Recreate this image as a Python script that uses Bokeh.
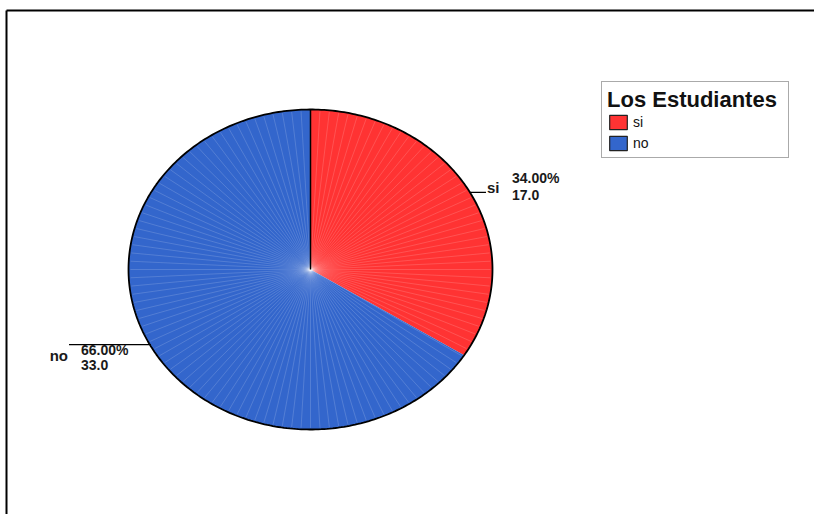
import numpy as np
from bokeh.plotting import figure
from bokeh.models import Range1d, Legend, LegendItem
from bokeh.core.properties import value
from bokeh.embed import file_html
from bokeh.resources import INLINE

# ---- data ----
categories = ["si", "no"]
counts = [17, 33]
colors = ["#FF3333", "#3366CC"]
legend_title = "Los Estudiantes"

# ---- layout (canvas pixels) ----
W, H = 814, 514
cx, cy, rx, ry = 310, 269, 182, 160
FONT = "Liberation Sans"

p = figure(width=W, height=H, output_backend="svg", toolbar_location=None,
           x_range=Range1d(0, W), y_range=Range1d(H, 0), min_border=0)
p.axis.visible = False
p.grid.visible = False
p.outline_line_color = None
p.background_fill_color = "white"
p.border_fill_color = "white"

def pt(theta_deg, scale=1.0):
    t = np.radians(theta_deg)
    return cx + rx * scale * np.cos(t), cy - ry * scale * np.sin(t)

total = float(sum(counts))
fracs = [c / total for c in counts]
starts, ends, mids = [], [], []
a = 90.0
for f in fracs:
    starts.append(a)
    ends.append(a - 360 * f)
    mids.append(a - 180 * f)
    a -= 360 * f

# slices
for cat, s, e, col in zip(categories, starts, ends, colors):
    th = np.linspace(s, e, 200)
    xs, ys = pt(th)
    p.patch(np.concatenate([[cx], xs]), np.concatenate([[cy], ys]),
            fill_color=col, line_color=None)

# light radial streaks (shading texture)
ang = np.arange(0, 360, 3.0)
ex, ey = pt(ang, 0.99)
p.segment(x0=[cx] * len(ang), y0=[cy] * len(ang), x1=ex, y1=ey,
          line_color="white", line_alpha=0.2, line_width=0.8)

# outline
th = np.linspace(0, 360, 400)
ox, oy = pt(th)
p.line(ox, oy, line_color="black", line_width=1.8)
sx, sy = pt(starts[0])
p.line([cx, sx], [cy, sy], line_color="black", line_width=1.5)

# labels
lay = [dict(lead=16, nx=17, nalign="left", ndy=-5, bx=42, b1=-14, b2=3, ly=0),
       dict(lead=-82, nx=-83, nalign="right", ndy=9, bx=-70, b1=3, b2=18, ly=-2)]
for cat, c, f, m, L in zip(categories, counts, fracs, mids, lay):
    mx, my = pt(m)
    p.line([mx, mx + L["lead"]], [my + L["ly"], my + L["ly"]],
           line_color="black", line_width=1.2)
    p.text(x=[mx + L["nx"]], y=[my + L["ndy"]], text=[cat], text_font=value(FONT),
           text_font_style="bold", text_font_size="15px", text_align=L["nalign"],
           text_baseline="alphabetic", text_color="#1a1a1a")
    p.text(x=[mx + L["bx"]] * 2, y=[my + L["b1"], my + L["b2"]],
           text=[f"{f * 100:.2f}%", f"{c:.1f}"], text_font=value(FONT),
           text_font_style="bold", text_font_size="14px", text_align="left",
           text_baseline="alphabetic", text_color="#1a1a1a")

# frame lines (top and left)
p.line([6, W], [10, 10], line_color="black", line_width=2)
p.line([6, 6], [10, H], line_color="black", line_width=2)

# legend (legend-only hidden renderers)
items = []
for cat, c, col in zip(categories, counts, colors):
    r = p.quad(left=[0], right=[c], top=[0], bottom=[c], fill_color=col,
               line_color="#222222", line_width=1.2, visible=False)
    items.append(LegendItem(label=cat, renderers=[r]))
legend = Legend(items=items, title=legend_title, location=(601, H - 158),
                title_text_font=FONT, title_text_font_style="bold",
                title_text_font_size="22px", title_text_color="#111111",
                title_standoff=0,
                label_text_font=FONT, label_text_font_size="14px",
                label_text_color="#111111",
                glyph_width=22, glyph_height=18, label_height=18,
                label_standoff=4, label_width=150, spacing=3, padding=5,
                inactive_fill_alpha=0.0,
                border_line_color="#555555", border_line_width=1.5,
                background_fill_color="white", background_fill_alpha=1.0)
p.add_layout(legend, "center")

open("out.html", "w").write(file_html(p, INLINE))
